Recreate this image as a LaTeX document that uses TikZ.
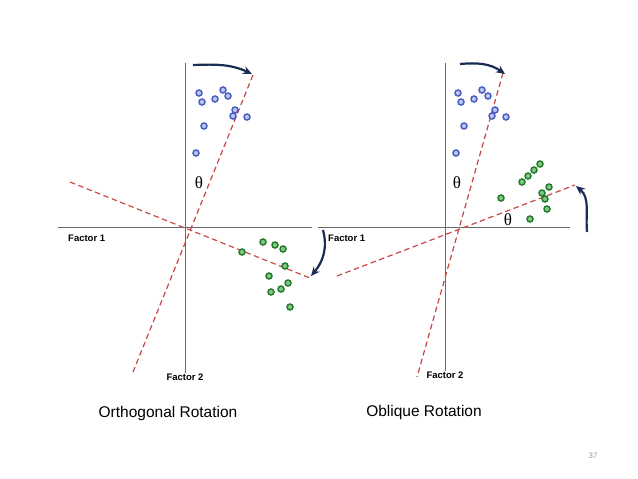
\documentclass[tikz,border=0pt]{standalone}
\usepackage{fontspec}
\setmainfont{Liberation Sans}
\newfontfamily\thetafont{Liberation Serif}
\usepackage{tikz}
\usetikzlibrary{arrows.meta}
\definecolor{axis}{RGB}{105, 105, 105}
\definecolor{rot}{RGB}{200, 70, 70}
\definecolor{turn}{RGB}{25, 45, 85}
\definecolor{bluedraw}{RGB}{75, 95, 195}
\definecolor{bluefill}{RGB}{190, 200, 240}
\definecolor{greendraw}{RGB}{35, 125, 45}
\definecolor{greenfill}{RGB}{135, 200, 135}

\begin{document}
\begin{tikzpicture}[x=1pt, y=-1pt,
    axisline/.style={draw=axis, line width=0.9pt},
    rotline/.style={draw=rot, dashed, dash pattern=on 5.5pt off 3.5pt, line width=1.2pt},
    turnarrow/.style={-{Stealth[length=9pt, width=8pt]}, draw=turn, line width=2.2pt},
    bluedot/.style={circle, draw=bluedraw, fill=bluefill, line width=1.5pt, inner sep=0pt, minimum size=6pt},
    greendot/.style={circle, draw=greendraw, fill=greenfill, line width=1.5pt, inner sep=0pt, minimum size=6pt},
    factor/.style={font=\bfseries\fontsize{9.5}{11}\selectfont, inner sep=1pt},
    angle/.style={font=\thetafont\fontsize{17}{19}\selectfont, inner sep=0pt},
    caption/.style={font=\fontsize{15.5}{18}\selectfont, inner sep=0pt}]
  \useasboundingbox[fill=white] (0, 0) rectangle (638, 479);

  % orthogonal
  \coordinate (lo) at (185, 227);
  \coordinate (lw) at (58, 227);
  \coordinate (le) at (312, 227);
  \coordinate (ln) at (185, 63);
  \coordinate (ls) at (185, 373);
  \draw[axisline] (lw) -- (le);
  \draw[axisline] (ln) -- (ls);
  \coordinate (lr1a) at (253, 75);
  \coordinate (lr1b) at (133, 372);
  \coordinate (lr2a) at (70, 182);
  \coordinate (lr2b) at (310, 278);
  \draw[rotline] (lr1a) -- (lr1b);
  \draw[rotline] (lr2a) -- (lr2b);
  \node[factor, anchor=west] (lf1) at (67, 238) {Factor 1};
  \node[factor, anchor=north] (lf2) at (ls) {Factor 2};
  \node[angle] (lth) at (199, 183) {θ};

  \foreach \x/\y [count=\i] in {199/93, 202/102, 215/99, 223/90, 228/96, 235/110, 233/116, 247/117, 204/126, 196/153} {
    \node[bluedot] (lb\i) at (\x, \y) {};
  }
  \foreach \x/\y [count=\i] in {263/242, 275/245, 283/249, 242/252, 285/266, 269/276, 288/283, 281/289, 271/292, 290/307} {
    \node[greendot] (lg\i) at (\x, \y) {};
  }

  \coordinate (lt1) at (193, 65);
  \coordinate (lt2) at (252, 74);
  \draw[turnarrow] (lt1) to[out=2, in=155] (lt2);
  \coordinate (ls1) at (323, 230);
  \coordinate (ls2) at (311, 276);
  \draw[turnarrow] (ls1) to[out=-75, in=50] (ls2);

  % oblique
  \coordinate (ro) at (445, 227);
  \coordinate (rw) at (318, 227);
  \coordinate (re) at (570, 227);
  \coordinate (rn) at (445, 63);
  \coordinate (rs) at (445, 371);
  \draw[axisline] (rw) -- (re);
  \draw[axisline] (rn) -- (rs);
  \coordinate (rr1a) at (503, 73);
  \coordinate (rr1b) at (417, 377);
  \coordinate (rr2a) at (337, 276);
  \coordinate (rr2b) at (575, 185);
  \draw[rotline] (rr1a) -- (rr1b);
  \draw[rotline] (rr2a) -- (rr2b);
  \node[factor, anchor=west] (rf1) at (327, 238) {Factor 1};
  \node[factor, anchor=north] (rf2) at (rs) {Factor 2};
  \node[angle] (rth1) at (457, 183) {θ};
  \node[angle] (rth2) at (508, 220) {θ};

  \foreach \x/\y [count=\i] in {458/93, 461/102, 474/99, 482/90, 488/96, 495/110, 492/116, 506/117, 464/126, 456/153} {
    \node[bluedot] (rb\i) at (\x, \y) {};
  }
  \foreach \x/\y [count=\i] in {540/164, 534/170, 528/176, 522/182, 549/187, 542/193, 545/199, 501/198, 547/209, 530/219} {
    \node[greendot] (rg\i) at (\x, \y) {};
  }

  \coordinate (rt1) at (460, 64);
  \coordinate (rt2) at (505, 74);
  \draw[turnarrow] (rt1) to[out=5, in=145] (rt2);
  \coordinate (rs1) at (587, 232);
  \coordinate (rs2) at (576, 186);
  \draw[turnarrow] (rs1) to[out=95, in=-40] (rs2);

  \node[caption] (lcap) at (168, 413) {Orthogonal Rotation};
  \node[caption] (rcap) at (424, 412) {Oblique Rotation};
  \node[font=\fontsize{8}{9}\selectfont, text=gray!80, inner sep=0pt] (page) at (593, 456) {37};

\end{tikzpicture}
\end{document}
